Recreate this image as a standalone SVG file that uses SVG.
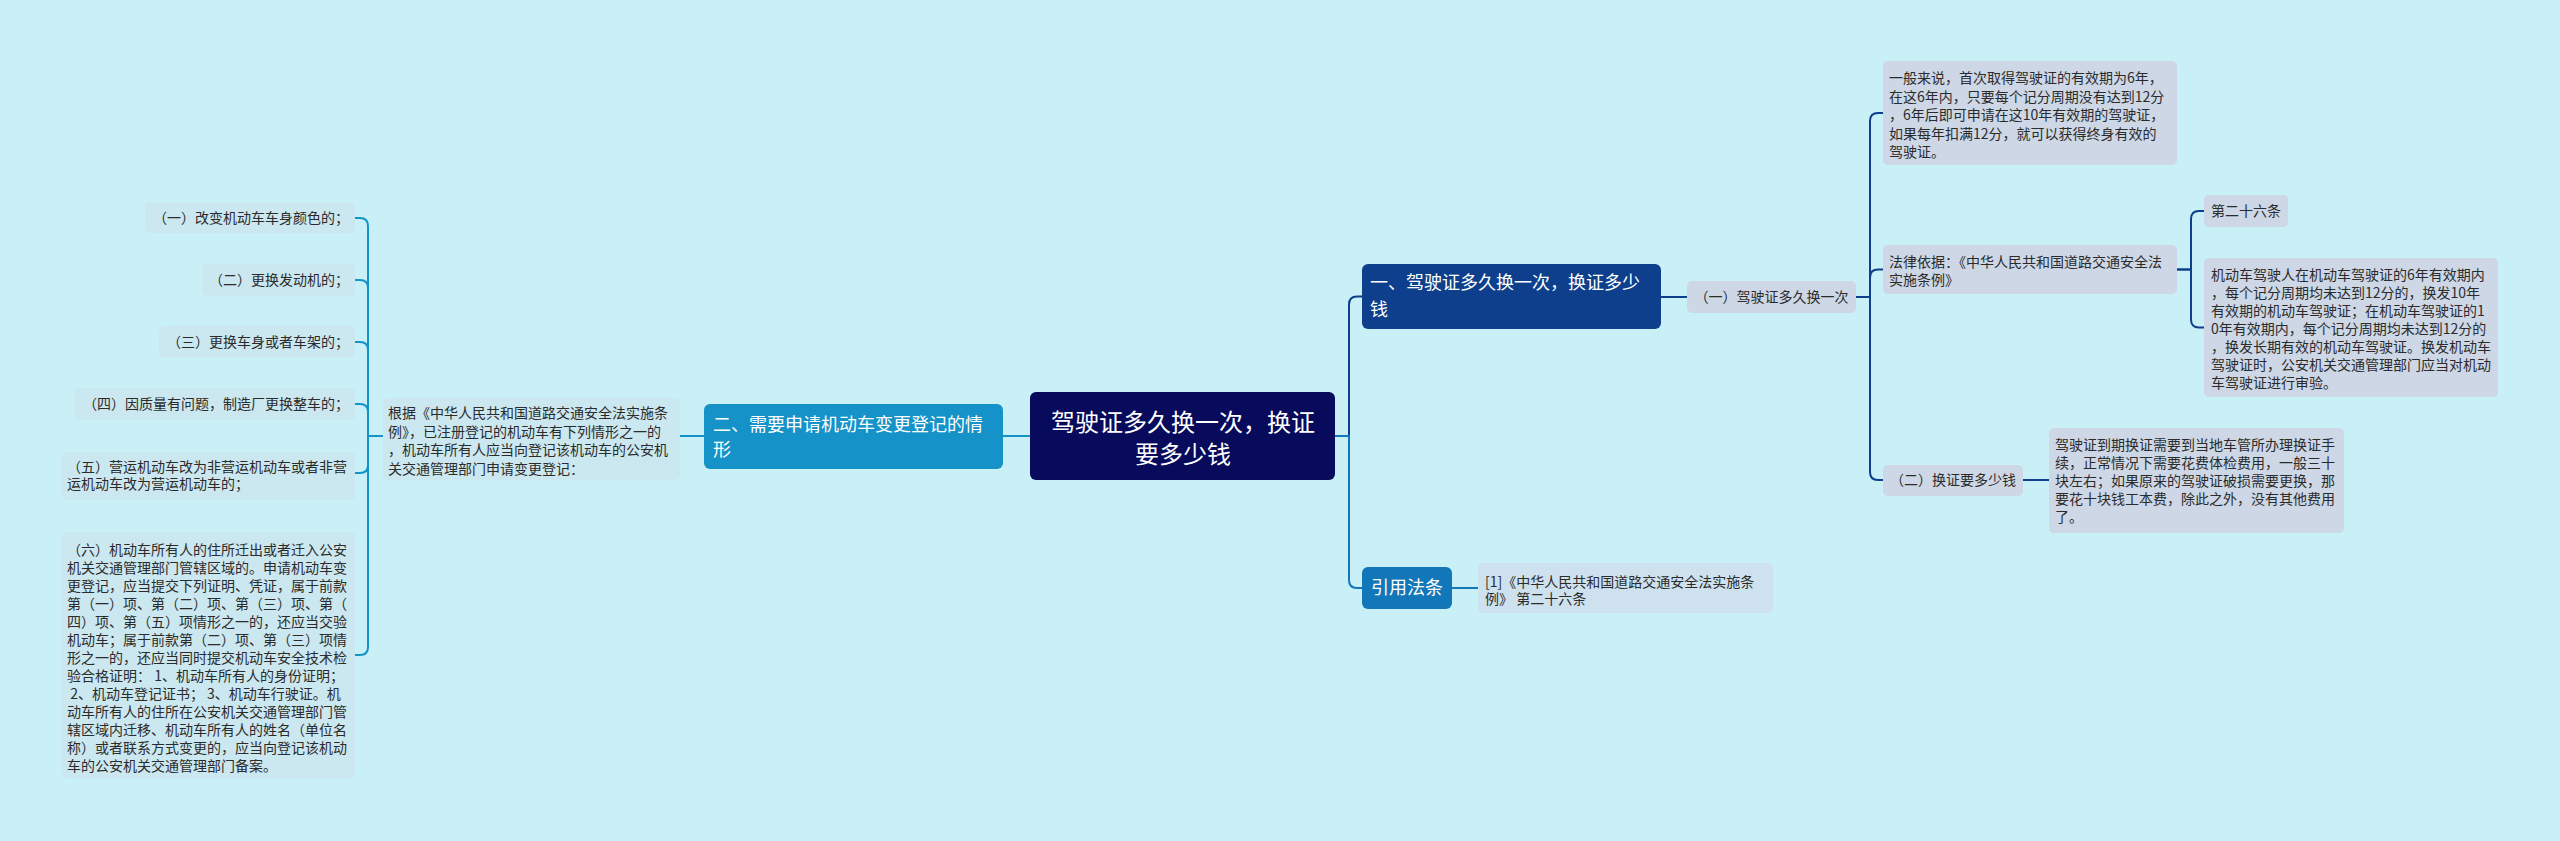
<svg xmlns="http://www.w3.org/2000/svg" width="2560" height="841" viewBox="0 0 2560 841">
<style>
text{font-family:"Noto Sans CJK SC","Noto Sans",sans-serif;}
.s{font-size:14px;fill:#2b2b2b;}
.b{font-size:18px;fill:#ffffff;}
.r{font-size:24px;fill:#ffffff;}
.tn{fill:#cdd7e6;}
.ln{fill:#cbe7f0;}
.c1{fill:none;stroke:#0d3f8c;stroke-width:2;}
.c2{fill:none;stroke:#1592c8;stroke-width:2;}
.c3{fill:none;stroke:#1277b8;stroke-width:2;}
.pre{white-space:pre;}
</style>
<rect x="0" y="0" width="2560" height="841" fill="#c9eff7"/>
<g id="connectors">
<path class="c1" d="M1335 436 H1349 V304.5 Q1349 296.5 1357 296.5 H1362"/>
<path class="c3" d="M1335 436 H1349 V580 Q1349 588 1357 588 H1362"/>
<path class="c1" d="M1661 297 H1687"/>
<path class="c1" d="M1856 297 H1870 V121 Q1870 113 1878 113 H1883"/>
<path class="c1" d="M1856 297 H1870 V277.5 Q1870 269.5 1878 269.5 H1883"/>
<path class="c1" d="M1856 297 H1870 V472 Q1870 480 1878 480 H1883"/>
<path class="c1" d="M2177 269.5 H2191 V219 Q2191 211 2199 211 H2204"/>
<path class="c1" d="M2177 269.5 H2191 V319.5 Q2191 327.5 2199 327.5 H2204"/>
<path class="c1" d="M2023 480 H2049"/>
<path class="c3" d="M1452 588 H1478"/>
<path class="c2" d="M1030 436 H1003"/>
<path class="c2" d="M704 436 H680"/>
<path class="c2" d="M383 436 H368 V226 Q368 218 360 218 H355"/>
<path class="c2" d="M383 436 H368 V288 Q368 280 360 280 H355"/>
<path class="c2" d="M383 436 H368 V350 Q368 342 360 342 H355"/>
<path class="c2" d="M383 436 H368 V412 Q368 404 360 404 H355"/>
<path class="c2" d="M383 436 H368 V465 Q368 473 360 473 H355"/>
<path class="c2" d="M383 436 H368 V647 Q368 655 360 655 H355"/>
</g>
<g id="root">
<rect x="1030" y="392" width="305" height="88" rx="6" fill="#080b5c"/>
<text class="r" x="1183" y="431" text-anchor="middle">驾驶证多久换一次，换证</text>
<text class="r" x="1183" y="463" text-anchor="middle">要多少钱</text>
</g>
<g id="branch1">
<rect x="1362" y="264" width="299" height="65" rx="6" fill="#0d3f8c"/>
<text class="b" x="1370" y="289">一、驾驶证多久换一次，换证多少</text>
<text class="b" x="1370" y="316">钱</text>
</g>
<g id="b1-1">
<rect class="tn" x="1687" y="281" width="169" height="32" rx="5"/>
<text class="s" x="1771.5" y="302" text-anchor="middle">（一）驾驶证多久换一次</text>
</g>
<g id="b1-1-a">
<rect class="tn" x="1883" y="61" width="294" height="104" rx="5"/>
<text class="s" x="1889" y="83">一般来说，首次取得驾驶证的有效期为6年，</text>
<text class="s" x="1889" y="101.5">在这6年内，只要每个记分周期没有达到12分</text>
<text class="s" x="1889" y="120">，6年后即可申请在这10年有效期的驾驶证，</text>
<text class="s" x="1889" y="138.5">如果每年扣满12分，就可以获得终身有效的</text>
<text class="s" x="1889" y="157">驾驶证。</text>
</g>
<g id="b1-1-b">
<rect class="tn" x="1883" y="245" width="294" height="49" rx="5"/>
<text class="s" x="1889" y="267">法律依据：《中华人民共和国道路交通安全法</text>
<text class="s" x="1889" y="285">实施条例》</text>
</g>
<g id="b1-1-b-1">
<rect class="tn" x="2204" y="195" width="84" height="32" rx="5"/>
<text class="s" x="2211" y="216">第二十六条</text>
</g>
<g id="b1-1-b-2">
<rect class="tn" x="2204" y="258" width="294" height="139" rx="5"/>
<text class="s" x="2211" y="280">机动车驾驶人在机动车驾驶证的6年有效期内</text>
<text class="s" x="2211" y="298">，每个记分周期均未达到12分的，换发10年</text>
<text class="s" x="2211" y="316">有效期的机动车驾驶证；在机动车驾驶证的1</text>
<text class="s" x="2211" y="334">0年有效期内，每个记分周期均未达到12分的</text>
<text class="s" x="2211" y="352">，换发长期有效的机动车驾驶证。换发机动车</text>
<text class="s" x="2211" y="370">驾驶证时，公安机关交通管理部门应当对机动</text>
<text class="s" x="2211" y="388">车驾驶证进行审验。</text>
</g>
<g id="b1-2">
<rect class="tn" x="1883" y="465" width="140" height="31" rx="5"/>
<text class="s" x="1953" y="485" text-anchor="middle">（二）换证要多少钱</text>
</g>
<g id="b1-2-a">
<rect class="tn" x="2049" y="428" width="295" height="105" rx="5"/>
<text class="s" x="2055" y="450">驾驶证到期换证需要到当地车管所办理换证手</text>
<text class="s" x="2055" y="468">续，正常情况下需要花费体检费用，一般三十</text>
<text class="s" x="2055" y="486">块左右；如果原来的驾驶证破损需要更换，那</text>
<text class="s" x="2055" y="504">要花十块钱工本费，除此之外，没有其他费用</text>
<text class="s" x="2055" y="522">了。</text>
</g>
<g id="branch3">
<rect x="1362" y="567" width="90" height="42" rx="6" fill="#1277b8"/>
<text class="b" x="1407" y="594" text-anchor="middle">引用法条</text>
</g>
<g id="b3-1">
<rect x="1478" y="563" width="295" height="50" rx="5" fill="#cde1ee"/>
<text class="s" x="1485" y="587">[1]《中华人民共和国道路交通安全法实施条</text>
<text class="s" x="1485" y="604">例》 第二十六条</text>
</g>
<g id="branch2">
<rect x="704" y="404" width="299" height="65" rx="6" fill="#1592c8"/>
<text class="b" x="713" y="431">二、需要申请机动车变更登记的情</text>
<text class="b" x="713" y="456">形</text>
</g>
<g id="b2-1">
<rect class="ln" x="383" y="398" width="297" height="82" rx="5"/>
<text class="s" x="388" y="418">根据《中华人民共和国道路交通安全法实施条</text>
<text class="s" x="388" y="436.5">例》，已注册登记的机动车有下列情形之一的</text>
<text class="s" x="388" y="455">，机动车所有人应当向登记该机动车的公安机</text>
<text class="s" x="388" y="473.5">关交通管理部门申请变更登记：</text>
</g>
<g id="b2-1-1">
<rect class="ln" x="145" y="202" width="210" height="31" rx="5"/>
<text class="s" x="349" y="223" text-anchor="end">（一）改变机动车车身颜色的；</text>
</g>
<g id="b2-1-2">
<rect class="ln" x="202" y="264" width="153" height="32" rx="5"/>
<text class="s" x="349" y="285" text-anchor="end">（二）更换发动机的；</text>
</g>
<g id="b2-1-3">
<rect class="ln" x="159" y="326" width="196" height="32" rx="5"/>
<text class="s" x="349" y="347" text-anchor="end">（三）更换车身或者车架的；</text>
</g>
<g id="b2-1-4">
<rect class="ln" x="74" y="388" width="281" height="32" rx="5"/>
<text class="s" x="349" y="409" text-anchor="end">（四）因质量有问题，制造厂更换整车的；</text>
</g>
<g id="b2-1-5">
<rect class="ln" x="62" y="452" width="293" height="48" rx="5"/>
<text class="s" x="67" y="472">（五）营运机动车改为非营运机动车或者非营</text>
<text class="s" x="67" y="489">运机动车改为营运机动车的；</text>
</g>
<g id="b2-1-6">
<rect class="ln" x="62" y="532" width="293" height="246" rx="5"/>
<text class="s" x="67" y="555">（六）机动车所有人的住所迁出或者迁入公安</text>
<text class="s" x="67" y="573">机关交通管理部门管辖区域的。申请机动车变</text>
<text class="s" x="67" y="591">更登记，应当提交下列证明、凭证，属于前款</text>
<text class="s" x="67" y="609">第（一）项、第（二）项、第（三）项、第（</text>
<text class="s" x="67" y="627">四）项、第（五）项情形之一的，还应当交验</text>
<text class="s" x="67" y="645">机动车；属于前款第（二）项、第（三）项情</text>
<text class="s" x="67" y="663">形之一的，还应当同时提交机动车安全技术检</text>
<text class="s pre" x="67" y="681">验合格证明： 1、机动车所有人的身份证明；</text>
<text class="s pre" x="67" y="699"> 2、机动车登记证书； 3、机动车行驶证。机</text>
<text class="s" x="67" y="717">动车所有人的住所在公安机关交通管理部门管</text>
<text class="s" x="67" y="735">辖区域内迁移、机动车所有人的姓名（单位名</text>
<text class="s" x="67" y="753">称）或者联系方式变更的，应当向登记该机动</text>
<text class="s" x="67" y="771">车的公安机关交通管理部门备案。</text>
</g>
</svg>
